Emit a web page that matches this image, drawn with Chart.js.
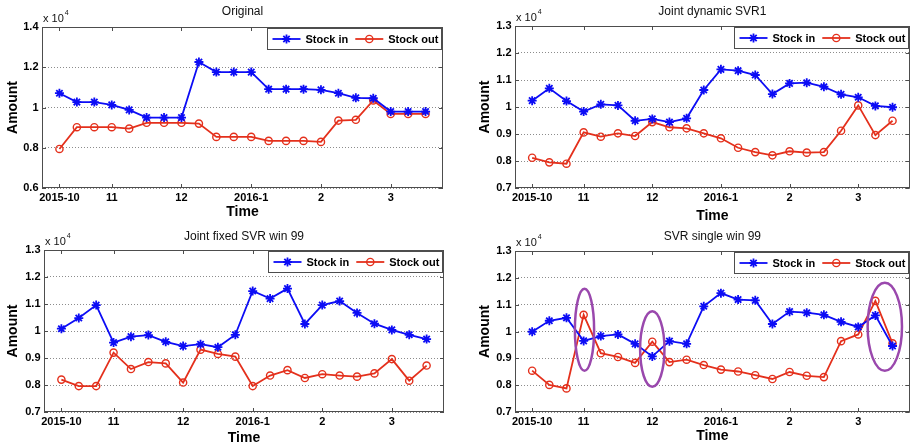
<!DOCTYPE html>
<html>
<head>
<meta charset="utf-8">
<title>Stock in / Stock out</title>
<script src="https://cdn.jsdelivr.net/npm/chart.js@4.4.0/dist/chart.umd.min.js"></script>
<style>
  html, body { margin: 0; padding: 0; background: #fff; }
  #wrap { position: relative; width: 916px; height: 447px; overflow: hidden; }
  #wrap canvas { position: absolute; }
</style>
</head>
<body>
<div id="wrap">
  <canvas id="p1" width="458" height="225" style="left:0;top:0"></canvas>
  <canvas id="p2" width="458" height="225" style="left:458px;top:0"></canvas>
  <canvas id="p3" width="458" height="222" style="left:0;top:225px"></canvas>
  <canvas id="p4" width="458" height="222" style="left:458px;top:225px"></canvas>
</div>
<script>
/* Data (raw units, axis shows x 10^4) */
const tickPositions = [0, 3, 7, 11, 15, 19];
const tickLabels = ['2015-10', '11', '12', '2016-1', '2', '3'];
const seriesNames = ['Stock in', 'Stock out'];
const panelTitles = ['Original', 'Joint dynamic SVR1', 'Joint fixed SVR win 99', 'SVR single win 99'];

const originalIn  = [10710, 10270, 10270, 10130, 9880, 9500, 9500, 9500, 12260, 11760, 11760, 11760, 10910, 10910, 10910, 10880, 10710, 10480, 10460, 9800, 9800, 9800];
const originalOut = [7940, 9020, 9020, 9020, 8950, 9240, 9240, 9240, 9200, 8540, 8540, 8540, 8340, 8340, 8340, 8290, 9350, 9390, 10350, 9680, 9680, 9680];

const dynamicIn  = [10235, 10690, 10220, 9830, 10100, 10060, 9490, 9560, 9440, 9580, 10630, 11395, 11345, 11185, 10480, 10875, 10900, 10750, 10470, 10360, 10040, 9990];
const dynamicOut = [8120, 7950, 7900, 9060, 8900, 9025, 8925, 9440, 9250, 9210, 9025, 8840, 8490, 8330, 8210, 8360, 8310, 8330, 9120, 10060, 8960, 9490];

const fixedIn  = [10085, 10480, 10960, 9570, 9790, 9850, 9600, 9440, 9510, 9400, 9860, 11480, 11200, 11570, 10260, 10960, 11110, 10670, 10270, 10040, 9860, 9700];
const fixedOut = [8200, 7960, 7960, 9200, 8590, 8850, 8800, 8090, 9310, 9150, 9050, 7960, 8350, 8550, 8260, 8400, 8350, 8310, 8430, 8960, 8160, 8720];

const singleIn  = [9990, 10400, 10510, 9650, 9830, 9890, 9540, 9070, 9640, 9540, 10940, 11430, 11190, 11160, 10280, 10740, 10700, 10620, 10360, 10170, 10600, 9460];
const singleOut = [8540, 8010, 7880, 10620, 9190, 9050, 8830, 9620, 8860, 8950, 8750, 8580, 8510, 8370, 8230, 8490, 8350, 8300, 9640, 9890, 11140, 9560];

// highlight ellipses on the last panel (centre and radii in data units)
const ellipseX  = [3.05, 7.0, 20.55];
const ellipseY  = [10066, 9346, 10177];
const ellipseRx = [0.56, 0.71, 1.0];
const ellipseRy = [1525, 1407, 1640];

const FONT = "'Liberation Sans', Arial, Helvetica, sans-serif";
const BLUE = '#0c0cf5';
const RED = '#e4301c';
const PURPLE = '#9a48ad';
const AXIS = '#4d4d4d';

function toPoints(values) {
    return values.map((v, i) => ({ x: i, y: v }));
}

// MATLAB-ish box, inner ticks, exponent label, legend and ellipses
const matlabDecor = {
    id: 'matlabDecor',
    beforeDatasetsDraw(chart) {
        const { ctx, chartArea: a, scales: { x, y } } = chart;
        ctx.save();
        ctx.strokeStyle = AXIS;
        ctx.lineWidth = 1;
        ctx.beginPath();
        tickPositions.forEach(v => {
            const px = Math.round(x.getPixelForValue(v)) + 0.5;
            ctx.moveTo(px, a.bottom); ctx.lineTo(px, a.bottom - 4);
            ctx.moveTo(px, a.top); ctx.lineTo(px, a.top + 4);
        });
        y.ticks.forEach(t => {
            const py = Math.round(y.getPixelForValue(t.value)) + 0.5;
            ctx.moveTo(a.left, py); ctx.lineTo(a.left + 4, py);
            ctx.moveTo(a.right, py); ctx.lineTo(a.right - 4, py);
        });
        ctx.stroke();
        ctx.strokeRect(Math.round(a.left) + 0.5, Math.round(a.top) + 0.5,
            Math.round(a.right - a.left) - 1, Math.round(a.bottom - a.top) - 1);

        // "x 10^4"
        ctx.fillStyle = '#111';
        ctx.textAlign = 'left';
        ctx.textBaseline = 'alphabetic';
        ctx.font = `11px ${FONT}`;
        ctx.fillText('x 10', a.left + 1, a.top - 5);
        const w = ctx.measureText('x 10').width;
        ctx.font = `7px ${FONT}`;
        ctx.fillText('4', a.left + 2 + w, a.top - 12);
        ctx.restore();
    },
    afterDatasetsDraw(chart, args, opts) {
        if (!opts || !opts.ellipses) return;
        const { ctx, scales: { x, y } } = chart;
        ctx.save();
        ctx.strokeStyle = PURPLE;
        ctx.lineWidth = 2.5;
        opts.ellipses.cx.forEach((cxv, i) => {
            const cx = x.getPixelForValue(cxv);
            const cy = y.getPixelForValue(opts.ellipses.cy[i]);
            const rx = Math.abs(x.getPixelForValue(cxv + opts.ellipses.rx[i]) - cx);
            const ry = Math.abs(y.getPixelForValue(opts.ellipses.cy[i] + opts.ellipses.ry[i]) - cy);
            ctx.beginPath();
            ctx.ellipse(cx, cy, rx, ry, 0, 0, Math.PI * 2);
            ctx.stroke();
        });
        ctx.restore();
    },
    afterDraw(chart) {
        const { ctx, chartArea: a } = chart;
        const sets = chart.data.datasets;
        ctx.save();
        ctx.font = `bold 11px ${FONT}`;
        const lineLen = 28, gap = 5, pad = 5, between = 7, h = 21;
        let total = pad;
        sets.forEach((d, i) => {
            total += lineLen + gap + ctx.measureText(d.label).width + (i < sets.length - 1 ? between : 3);
        });
        total = Math.round(total);
        const bx = Math.round(a.right - 2 - total) + 0.5;
        const by = Math.round(a.top + 1) + 0.5;
        ctx.fillStyle = '#fff';
        ctx.fillRect(bx, by, total, h);
        ctx.strokeStyle = AXIS;
        ctx.lineWidth = 1;
        ctx.strokeRect(bx, by, total, h);

        let cx = bx + pad;
        const cy = by + h / 2;
        sets.forEach(d => {
            ctx.strokeStyle = d.borderColor;
            ctx.lineWidth = d.borderWidth;
            ctx.beginPath();
            ctx.moveTo(cx, cy);
            ctx.lineTo(cx + lineLen, cy);
            ctx.stroke();
            ctx.fillStyle = d.pointBackgroundColor;
            ctx.strokeStyle = d.pointBorderColor;
            ctx.lineWidth = d.pointBorderWidth;
            if (Chart.helpers && Chart.helpers.drawPoint) {
                Chart.helpers.drawPoint(ctx, {
                    pointStyle: d.pointStyle, radius: d.pointRadius,
                    borderWidth: d.pointBorderWidth, rotation: 0
                }, cx + lineLen / 2, cy);
            }
            ctx.fillStyle = '#000';
            ctx.textAlign = 'left';
            ctx.textBaseline = 'middle';
            ctx.fillText(d.label, cx + lineLen + gap, cy + 0.5);
            cx += lineLen + gap + ctx.measureText(d.label).width + between;
        });
        ctx.restore();
    }
};

const panels = [
    { id: 'p1', title: panelTitles[0], dataIn: originalIn, dataOut: originalOut,
      yMin: 6000, yMax: 14000, yStep: 2000,
      w: 458, h: 225, titleCenter: 12, areaTop: 27, areaBottom: 188, areaLeft: 42, areaRight: 443,
      amountX: 13.3, timeY: 211.7 },
    { id: 'p2', title: panelTitles[1], dataIn: dynamicIn, dataOut: dynamicOut,
      yMin: 7000, yMax: 13000, yStep: 1000,
      w: 458, h: 225, titleCenter: 12, areaTop: 26, areaBottom: 188, areaLeft: 57, areaRight: 457,
      amountX: 26.7, timeY: 216 },
    { id: 'p3', title: panelTitles[2], dataIn: fixedIn, dataOut: fixedOut,
      yMin: 7000, yMax: 13000, yStep: 1000,
      w: 458, h: 222, titleCenter: 11.7, areaTop: 25, areaBottom: 187, areaLeft: 44, areaRight: 444,
      amountX: 13.3, timeY: 213.3 },
    { id: 'p4', title: panelTitles[3], dataIn: singleIn, dataOut: singleOut,
      yMin: 7000, yMax: 13000, yStep: 1000,
      w: 458, h: 222, titleCenter: 11.7, areaTop: 26, areaBottom: 187, areaLeft: 57, areaRight: 457,
      amountX: 26.7, timeY: 210.7,
      ellipses: { cx: ellipseX, cy: ellipseY, rx: ellipseRx, ry: ellipseRy } }
];

function makePanel(p) {
    const ctx = document.getElementById(p.id).getContext('2d');
    return new Chart(ctx, {
        type: 'line',
        data: {
            datasets: [
                {
                    label: seriesNames[0],
                    data: toPoints(p.dataIn),
                    borderColor: BLUE,
                    borderWidth: 1.8,
                    pointStyle: 'star',
                    pointRadius: 4.5,
                    pointBorderWidth: 1.8,
                    pointBorderColor: BLUE,
                    pointBackgroundColor: BLUE,
                    tension: 0
                },
                {
                    label: seriesNames[1],
                    data: toPoints(p.dataOut),
                    borderColor: RED,
                    borderWidth: 1.8,
                    pointStyle: 'circle',
                    pointRadius: 3.6,
                    pointBorderWidth: 1.4,
                    pointBorderColor: RED,
                    pointBackgroundColor: 'rgba(255,255,255,0)',
                    tension: 0
                }
            ]
        },
        options: {
            responsive: false,
            animation: false,
            events: [],
            layout: { padding: { left: 0, right: p.w - p.areaRight, top: 0, bottom: 0 } },
            plugins: {
                legend: { display: false },
                tooltip: { enabled: false },
                title: {
                    display: true,
                    text: p.title,
                    fullSize: false,
                    color: '#111',
                    font: { family: FONT, size: 12, weight: 'normal', lineHeight: 1.2 },
                    padding: { top: p.titleCenter - 7.2, bottom: p.areaTop - p.titleCenter - 7.2 }
                },
                matlabDecor: { ellipses: p.ellipses || null }
            },
            scales: {
                x: {
                    type: 'linear',
                    min: -1,
                    max: 22,
                    grid: { display: false, drawTicks: false },
                    border: { display: false },
                    afterBuildTicks: (scale) => {
                        scale.ticks = tickPositions.map(v => ({ value: v }));
                    },
                    afterFit: (scale) => { scale.height = p.h - p.areaBottom; },
                    ticks: {
                        autoSkip: false,
                        maxRotation: 0,
                        padding: 3.5,
                        color: '#000',
                        font: { family: FONT, size: 11, weight: 'bold' },
                        callback: (value) => tickLabels[tickPositions.indexOf(value)]
                    },
                    title: {
                        display: true,
                        text: 'Time',
                        color: '#000',
                        font: { family: FONT, size: 14, weight: 'bold', lineHeight: 1.2 },
                        padding: { top: 0, bottom: p.h - p.timeY - 8.4 }
                    }
                },
                y: {
                    min: p.yMin,
                    max: p.yMax,
                    grid: { color: '#8c8c8c', lineWidth: 1, drawTicks: false },
                    border: { display: false, dash: [1, 2] },
                    afterFit: (scale) => { scale.width = p.areaLeft; },
                    ticks: {
                        stepSize: p.yStep,
                        padding: 3.5,
                        color: '#000',
                        font: { family: FONT, size: 11, weight: 'bold' },
                        callback: (v) => String(Math.round(v / 1000) / 10)
                    },
                    title: {
                        display: true,
                        text: 'Amount',
                        color: '#000',
                        font: { family: FONT, size: 14, weight: 'bold', lineHeight: 1.2 },
                        padding: { top: p.amountX - 8.4, bottom: 0 }
                    }
                }
            }
        },
        plugins: [matlabDecor]
    });
}

panels.forEach(makePanel);
</script>
</body>
</html>
